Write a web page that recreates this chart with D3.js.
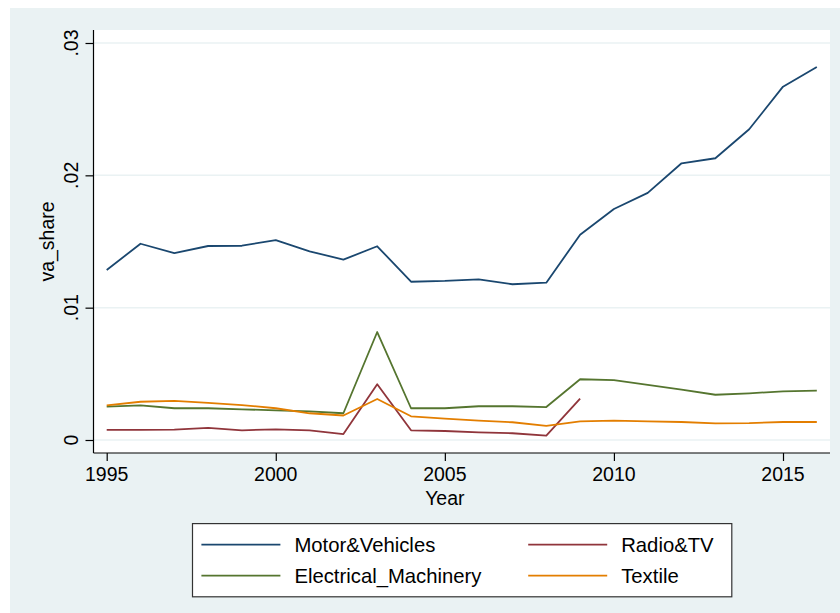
<!DOCTYPE html>
<html><head><meta charset="utf-8">
<script src="https://cdn.jsdelivr.net/npm/d3@7"></script>
<style>body{margin:0;background:#fff}svg{display:block}text{font-family:"Liberation Sans",Arial,sans-serif;fill:#000}</style>
</head><body>
<script>
const years = d3.range(1995, 2017);
const motor = [0.01285,0.01483,0.01413,0.01466,0.01468,0.01511,0.01426,0.01363,0.01464,0.01196,0.01202,0.01214,0.01177,0.01189,0.01551,0.01746,0.01867,0.02091,0.02129,0.02348,0.0267,0.02819];
const radio = [0.00076,0.00076,0.00078,0.00091,0.00073,0.00081,0.00073,0.00045,0.00421,0.00073,0.00068,0.00058,0.00051,0.00033,0.00312,null,null,null,null,null,null,null];
const elec = [0.00252,0.00262,0.0024,0.0024,0.00232,0.00224,0.00217,0.00202,0.00816,0.0024,0.0024,0.00255,0.00255,0.00249,0.00459,0.00453,0.00416,0.0038,0.00342,0.00353,0.00368,0.00373];
const textile = [0.00262,0.00289,0.00295,0.0028,0.00264,0.0024,0.00202,0.00185,0.0031,0.00179,0.00161,0.00146,0.00134,0.00106,0.00141,0.00146,0.00141,0.00136,0.00126,0.00128,0.00136,0.00136];
const seriesNames = ["Motor&Vehicles","Radio&TV","Electrical_Machinery","Textile"];
const seriesColors = ["#1a476f","#90353b","#55752f","#e37e00"];
const seriesData = [motor, radio, elec, textile];
const yTicks = [0, 0.01, 0.02, 0.03];
const yTickLabels = ["0", ".01", ".02", ".03"];
const xTicks = [1995, 2000, 2005, 2010, 2015];

const W = 840, H = 613;
const svg = d3.select("body").append("svg").attr("width", W).attr("height", H);
svg.append("rect").attr("x",10).attr("y",8).attr("width",W-10).attr("height",H-8).attr("fill","#eaf2f3");

const x = d3.scaleLinear().domain([1995, 2015]).range([106.7, 783]);
const y = d3.scaleLinear().domain([0, 0.03]).range([440, 43]);
const pL = 93.5, pR = 830, pT = 30, pB = 453;

svg.append("rect").attr("x",pL).attr("y",pT).attr("width",pR-pL).attr("height",pB-pT).attr("fill","#fff");

// gridlines
svg.append("g").selectAll("line").data(yTicks).join("line")
  .attr("x1",pL).attr("x2",pR).attr("y1",d=>y(d)).attr("y2",d=>y(d))
  .attr("stroke","#eaf2f3").attr("stroke-width",1.5);

// lines
const line = d3.line().defined(d=>d[1]!=null).x(d=>x(d[0])).y(d=>y(d[1]));
seriesData.forEach((s,i)=>{
  svg.append("path").datum(years.map((yr,j)=>[yr,s[j]]))
    .attr("d",line).attr("fill","none").attr("stroke",seriesColors[i])
    .attr("stroke-width",1.8).attr("stroke-linejoin","round");
});

// y axis
const yAxis = svg.append("g").attr("transform",`translate(${pL},0)`)
  .call(d3.axisLeft(y).tickValues(yTicks).tickSize(8).tickFormat(""));
yAxis.select(".domain").attr("d",`M0,${pT}V${pB}`).attr("stroke","#000").attr("stroke-width",1.2);
yAxis.selectAll(".tick line").attr("stroke","#000").attr("stroke-width",1.2);
svg.append("g").selectAll("text").data(yTicks).join("text")
  .attr("transform",(d)=>`translate(78,${y(d)}) rotate(-90)`)
  .attr("text-anchor","middle").attr("font-size","19.5px")
  .text((d,i)=>yTickLabels[i]);

// x axis
const xAxis = svg.append("g").attr("transform",`translate(0,${pB})`)
  .call(d3.axisBottom(x).tickValues(xTicks).tickSize(8).tickFormat(""));
xAxis.select(".domain").attr("d",`M${pL},0H${pR}`).attr("stroke","#000").attr("stroke-width",1.2);
xAxis.selectAll(".tick line").attr("stroke","#000").attr("stroke-width",1.2);
svg.append("g").selectAll("text").data(xTicks).join("text")
  .attr("x",d=>x(d)).attr("y",481).attr("text-anchor","middle").attr("font-size","19.5px")
  .text(d=>d);

svg.append("text").attr("x",x(2005)).attr("y",505).attr("text-anchor","middle").attr("font-size","19.5px").text("Year");
svg.append("text").attr("transform",`translate(54,${(pT+pB)/2}) rotate(-90)`).attr("text-anchor","middle").attr("font-size","19.5px").text("va_share");

// legend
const lg = svg.append("g");
lg.append("rect").attr("x",192.5).attr("y",523.6).attr("width",539.3).attr("height",73.2).attr("fill","#fff").attr("stroke","#333").attr("stroke-width",1.2);
const legendOrder = [0,1,2,3];
const colX = [201.4, 528.2], rowY = [544.6, 575.6];
legendOrder.forEach((si,k)=>{
  const cx = colX[k%2], ry = rowY[Math.floor(k/2)];
  lg.append("line").attr("x1",cx).attr("x2",cx+79).attr("y1",ry).attr("y2",ry).attr("stroke",seriesColors[si]).attr("stroke-width",1.8);
  lg.append("text").attr("x",cx+93).attr("y",ry).attr("dy","0.35em").attr("font-size","20.3px").text(seriesNames[si]);
});
</script>
</body></html>
